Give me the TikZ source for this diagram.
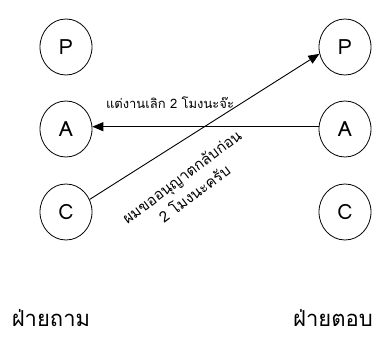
\documentclass[tikz,border=0pt]{standalone}
\usepackage{fontspec}
\setmainfont{Loma}[Script=Thai]
\usetikzlibrary{shapes.geometric,arrows.meta}

\begin{document}
\begin{tikzpicture}[x=1pt,y=-1pt]
	\tikzstyle{every node}=[inner sep=0pt]
	\tikzstyle{role}=[draw,ellipse,minimum width=52pt,minimum height=56pt,line width=0.8pt,font=\fontsize{21}{24}\selectfont]
	\tikzstyle{side}=[font=\fontsize{22}{26}\selectfont]
	\tikzstyle{said}=[font=\fontsize{13}{17}\selectfont,align=center]
	\tikzstyle{talk}=[line width=0.9pt,-{Triangle[length=11pt,width=9pt]}]
	\useasboundingbox (0,0) rectangle (383,344);
	% ฝ่ายถาม
	\node[role] (askP) at (66,47) {P};
	\node[role] (askA) at (66,129) {A};
	\node[role] (askC) at (66,212) {C};
	% ฝ่ายตอบ
	\node[role] (replyP) at (345,47) {P};
	\node[role] (replyA) at (345,129) {A};
	\node[role] (replyC) at (345,212) {C};
	\node[side] (askside) at (51,318) {ฝ่ายถาม};
	\node[side] (replyside) at (333,318) {ฝ่ายตอบ};
	\draw[talk] (replyA.175) -- (askA.5);
	\draw[talk] (askC.28) -- (replyP.195);
	\node[said] (finish) at (170,103) {แต่งานเลิก 2 โมงนะจ๊ะ};
	\node[said,font=\fontsize{15}{21}\selectfont,rotate=37] (leave) at (188,185) {ผมขออนุญาตกลับก่อน\\2 โมงนะครับ};
\end{tikzpicture}
\end{document}
